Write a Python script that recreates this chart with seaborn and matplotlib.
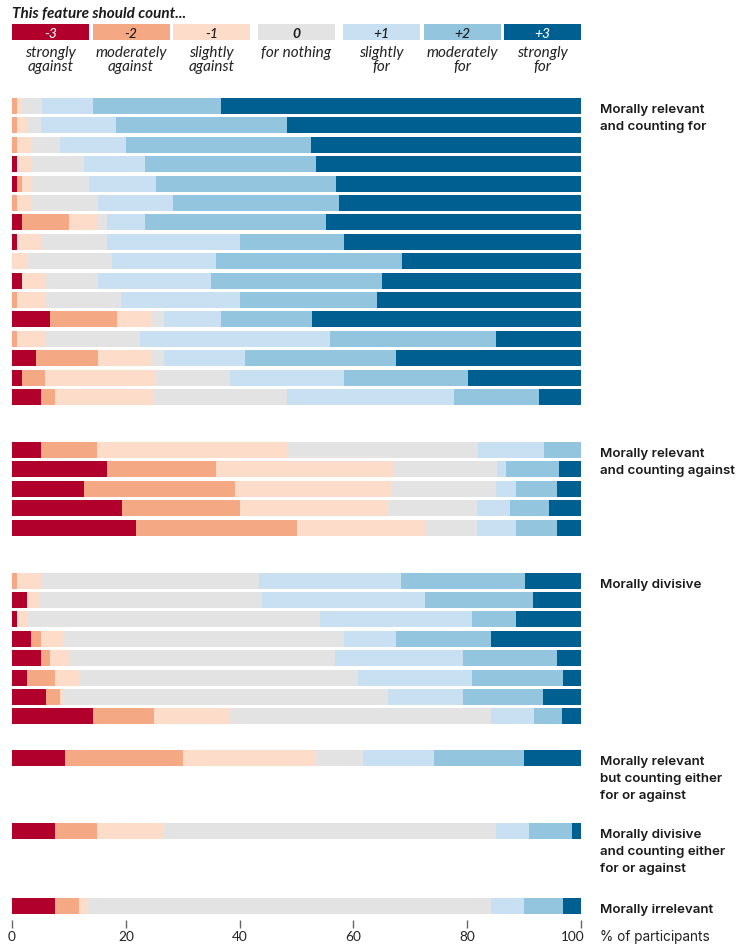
import numpy as np
import pandas as pd
import matplotlib
matplotlib.use("Agg")
import matplotlib.pyplot as plt
import seaborn as sns
from matplotlib.patches import Rectangle

# Response scale
levels = ["-3", "-2", "-1", "0", "+1", "+2", "+3"]
level_names = ["strongly\nagainst", "moderately\nagainst", "slightly\nagainst",
               "for nothing", "slightly\nfor", "moderately\nfor", "strongly\nfor"]
palette = ["#b2002c", "#f4a884", "#fddcc9", "#e3e3e3", "#c9e0f2", "#94c5de", "#005f91"]

group_labels = [
    "Morally relevant\nand counting for",
    "Morally relevant\nand counting against",
    "Morally divisive",
    "Morally relevant\nbut counting either\nfor or against",
    "Morally divisive\nand counting either\nfor or against",
    "Morally irrelevant",
]

# Share of participants (%) per feature, columns follow `levels`
relevant_for = [
    [0.0, 0.9, 0.9, 3.4, 9.1, 22.5, 63.2],
    [0.0, 0.9, 1.8, 2.4, 13.2, 30.1, 51.6],
    [0.0, 0.9, 2.4, 5.1, 11.6, 32.6, 47.4],
    [0.9, 0.0, 2.4, 9.3, 10.7, 30.1, 46.6],
    [0.9, 0.9, 1.6, 10.1, 11.8, 31.6, 43.1],
    [0.0, 0.9, 2.4, 11.8, 13.2, 29.2, 42.5],
    [1.7, 8.3, 5.1, 1.6, 6.7, 31.7, 44.9],
    [0.9, 0.0, 4.2, 11.6, 23.4, 18.3, 41.6],
    [0.0, 0.0, 2.6, 15.0, 18.3, 32.6, 31.5],
    [1.7, 0.0, 4.1, 9.3, 19.9, 30.1, 34.9],
    [0.0, 0.9, 5.1, 13.2, 20.9, 24.1, 35.8],
    [6.7, 11.8, 5.9, 2.4, 10.0, 15.9, 47.3],
    [0.0, 0.9, 5.1, 16.5, 33.4, 29.2, 14.9],
    [4.2, 10.9, 9.3, 2.4, 14.2, 26.5, 32.5],
    [1.7, 4.1, 19.3, 13.2, 20.1, 21.8, 19.8],
    [5.1, 2.4, 17.5, 23.4, 29.2, 15.1, 7.3],
]
relevant_against = [
    [5.1, 9.9, 33.5, 33.4, 11.6, 6.5, 0.0],
    [16.7, 19.2, 31.0, 18.3, 1.6, 9.3, 3.9],
    [12.6, 26.6, 27.6, 18.3, 3.4, 7.3, 4.2],
    [19.3, 20.8, 25.9, 15.8, 5.8, 6.7, 5.7],
    [21.8, 28.3, 22.4, 9.3, 6.7, 7.3, 4.2],
]
divisive = [
    [0.0, 0.9, 4.2, 38.3, 25.0, 21.7, 9.9],
    [2.6, 0.0, 2.4, 39.0, 28.5, 19.1, 8.4],
    [0.9, 0.0, 1.8, 51.5, 26.7, 7.6, 11.5],
    [3.3, 1.8, 4.0, 49.2, 9.1, 16.8, 15.8],
    [5.1, 1.6, 3.4, 46.7, 22.4, 16.6, 4.2],
    [2.6, 4.9, 4.2, 49.1, 20.1, 15.9, 3.2],
    [6.0, 2.4, 0.7, 56.9, 13.2, 14.2, 6.6],
    [14.2, 10.7, 13.4, 45.9, 7.5, 5.0, 3.3],
]
relevant_either = [[9.3, 20.7, 23.4, 8.3, 12.4, 15.9, 10.0]]
divisive_either = [[7.5, 7.5, 11.7, 58.4, 5.8, 7.6, 1.5]]
irrelevant = [[7.5, 4.2, 1.6, 70.9, 5.8, 6.8, 3.2]]

groups = [relevant_for, relevant_against, divisive,
          relevant_either, divisive_either, irrelevant]

x_ticks = [0, 20, 40, 60, 80, 100]

# spacing (in rows) between the last bar of a group and the first of the next
group_gaps = [2.73, 2.73, 2.17, 3.76, 3.87]

# ---- long-form table with cumulative widths -------------------------------
records = []
group_first_pos = []
pos = 0.0
for g, rows in enumerate(groups):
    if g > 0:
        pos += group_gaps[g - 1] - 1
    group_first_pos.append(pos)
    for row in rows:
        cum = np.cumsum(row)
        for k, lev in enumerate(levels):
            records.append({"pos": round(pos, 3), "level": lev, "cum": cum[k]})
        pos += 1
df = pd.DataFrame(records)

# ---- figure ---------------------------------------------------------------
sns.set_theme(style="white")
plt.rcParams["font.family"] = ["Lato", "DejaVu Sans"]
W, H = 739, 945
fig = plt.figure(figsize=(W / 100, H / 100), dpi=100)


def fig_y(px):
    return 1 - px / H


ax_top_px, ax_bot_px = 95, 921
row_px, first_center_px = 19.4, 107
ax = fig.add_axes([12 / W, fig_y(ax_bot_px), 569 / W, (ax_bot_px - ax_top_px) / H])

# stacked bars: draw cumulative widths from the widest (+3) to the narrowest (-3)
for k in reversed(range(len(levels))):
    sub = df[df["level"] == levels[k]]
    sns.barplot(data=sub, x="cum", y="pos", orient="y", native_scale=True,
                color=palette[k], saturation=1, width=0.825, linewidth=0,
                errorbar=None, ax=ax)

ax.set_xlim(0, 100)
ax.set_ylim((ax_bot_px - first_center_px) / row_px, (ax_top_px - first_center_px) / row_px)
for s in ax.spines.values():
    s.set_visible(False)
ax.set_yticks([])
ax.set_ylabel("")
ax.set_xlabel("")
ax.set_xticks(x_ticks)
ax.set_xticklabels([])
ax.tick_params(axis="x", bottom=True, length=6, width=1, color="#666666")

# tick labels; the last one sits a little to the left of its tick
tick_px = [12 + t * 5.69 for t in x_ticks]
tick_px[-1] -= 8
for t, xp in zip(x_ticks, tick_px):
    fig.text(xp / W, fig_y(941), str(t), ha="center", va="baseline",
             fontsize=9.8, color="#222222")

# group labels on the right, one line at a time
label_font = dict(fontsize=9.6, fontweight="semibold", family=["Inter", "DejaVu Sans"],
                  color="#1a1a1a")
for lab, p in zip(group_labels, group_first_pos):
    center_px = first_center_px + p * row_px
    for i, line in enumerate(lab.split("\n")):
        fig.text(600 / W, fig_y(center_px + 1 + 17 * i + 5), line,
                 ha="left", va="baseline", **label_font)

fig.text(600 / W, fig_y(941), "% of participants", ha="left", va="baseline",
         fontsize=9.8, family=["Inter", "DejaVu Sans"], color="#222222")

# ---- legend strip ---------------------------------------------------------
lg = fig.add_axes([0, fig_y(92), 1, 92 / H])
lg.set_xlim(0, W)
lg.set_ylim(92, 0)
lg.axis("off")
lg.text(12, 18, "This feature should count...", ha="left", va="baseline",
        fontsize=11, fontweight="bold", fontstyle="italic", color="#1a1a1a")

box_w, small_gap, big_gap = 77, 3.5, 8
x = 12
for k, (lev, name, col) in enumerate(zip(levels, level_names, palette)):
    lg.add_patch(Rectangle((x, 25), box_w, 16, facecolor=col, edgecolor="none"))
    txt_col = "white" if k in (0, 6) else "#1a1a1a"
    lg.text(x + box_w / 2, 37.5, lev, ha="center", va="baseline", fontsize=10,
            fontstyle="italic", fontweight="bold" if lev == "0" else "medium",
            color=txt_col)
    for i, line in enumerate(name.split("\n")):
        lg.text(x + box_w / 2, 57 + 14 * i, line, ha="center", va="baseline",
                fontsize=11, fontstyle="italic", color="#222222")
    x += box_w
    if k < 6:
        x += big_gap if k in (2, 3) else small_gap

fig.savefig("out.png", dpi=100)
